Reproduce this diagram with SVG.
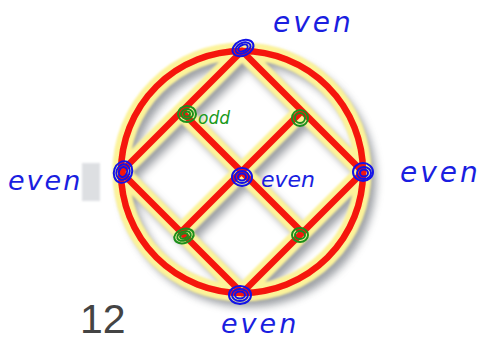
<svg xmlns="http://www.w3.org/2000/svg" width="495" height="341" viewBox="0 0 495 341">
<defs>
<filter id="shadow" x="-20%" y="-20%" width="140%" height="140%"><feGaussianBlur stdDeviation="4"/></filter>
<filter id="soft" x="-10%" y="-10%" width="120%" height="120%"><feGaussianBlur stdDeviation="1"/></filter>
<filter id="softr" x="-10%" y="-10%" width="120%" height="120%"><feGaussianBlur stdDeviation="0.7"/></filter>
<g id="shape" fill="none">
<circle cx="242" cy="172" r="121"/>
<path d="M242,51 L121,172 L242,293 L363,172 Z M181,111 L302,232 M302,111 L181,232"/>
</g>
</defs>
<style>
.lbl{font-family:"DejaVu Sans",sans-serif;fill:#1a1ee0;font-style:italic}
.odd{font-family:"DejaVu Sans",sans-serif;fill:#1a9a1a;font-style:italic}
.bd{fill:none;stroke:#1212e8;stroke-width:2}
.gd{fill:none;stroke:#1c8f1c;stroke-width:2}
</style>
<rect width="495" height="341" fill="#fff"/>
<g id="connectors" stroke-linejoin="round">
<use href="#shape" stroke="#6f747c" stroke-width="14" opacity="0.7" transform="translate(6,7)" filter="url(#shadow)"/>
<use href="#shape" stroke="#fcf39a" stroke-width="17" filter="url(#soft)"/>
<use href="#shape" stroke="#f5160a" stroke-width="6.5" filter="url(#softr)"/>
</g>
<rect x="82" y="163" width="18" height="38" fill="#c8cbd0" opacity="0.6" filter="url(#soft)"/>
<g id="n-top">
<ellipse cx="243" cy="48" rx="11" ry="7.5" transform="rotate(-25 243 48)" class="bd" stroke-width="3"/>
<ellipse cx="243" cy="48" rx="8" ry="5" transform="rotate(-25 243 48)" class="bd"/>
<ellipse cx="243" cy="48" rx="5" ry="3" transform="rotate(-25 243 48)" class="bd"/>
<text x="273" y="32" class="lbl" font-size="28" letter-spacing="3">even</text>
</g>
<g id="n-left">
<ellipse cx="123" cy="172" rx="9" ry="11" transform="rotate(20 123 172)" class="bd" stroke-width="3"/>
<ellipse cx="123" cy="172" rx="6.5" ry="8" transform="rotate(20 123 172)" class="bd"/>
<ellipse cx="123" cy="172" rx="4" ry="5" transform="rotate(20 123 172)" class="bd"/>
<text x="8" y="190" class="lbl" font-size="27" letter-spacing="2">even</text>
</g>
<g id="n-right">
<ellipse cx="363" cy="172" rx="10" ry="9" class="bd" stroke-width="3"/>
<ellipse cx="364" cy="173" rx="7" ry="6" class="bd"/>
<ellipse cx="364" cy="173" rx="4" ry="3.5" class="bd"/>
<text x="400" y="182" class="lbl" font-size="28" letter-spacing="3">even</text>
</g>
<g id="n-center">
<ellipse cx="242" cy="177" rx="10" ry="9" class="bd" stroke-width="3"/>
<ellipse cx="242" cy="177" rx="7" ry="6" class="bd"/>
<ellipse cx="242" cy="177" rx="4" ry="3.5" class="bd"/>
<text x="261" y="187" class="lbl" font-size="22">even</text>
</g>
<g id="n-bottom">
<ellipse cx="240" cy="295" rx="11" ry="9" class="bd" stroke-width="3"/>
<ellipse cx="240" cy="295" rx="8" ry="6" class="bd"/>
<ellipse cx="240" cy="295" rx="5" ry="3.5" class="bd"/>
<text x="221" y="333" class="lbl" font-size="27" letter-spacing="3">even</text>
</g>
<g id="n-tl">
<ellipse cx="187" cy="114" rx="9" ry="8" class="gd" stroke-width="3"/>
<ellipse cx="187" cy="114" rx="6" ry="5" class="gd"/>
<ellipse cx="187" cy="114" rx="3" ry="2.5" class="gd"/>
<text x="198" y="124" class="odd" font-size="17">odd</text>
</g>
<g id="n-tr">
<ellipse cx="300" cy="118" rx="8" ry="8" class="gd" stroke-width="3"/>
<ellipse cx="300" cy="118" rx="5" ry="5" class="gd"/>
</g>
<g id="n-bl">
<ellipse cx="184" cy="236" rx="10" ry="7" transform="rotate(-20 184 236)" class="gd" stroke-width="3"/>
<ellipse cx="184" cy="236" rx="7" ry="4.5" transform="rotate(-20 184 236)" class="gd"/>
<ellipse cx="184" cy="236" rx="4" ry="2.5" transform="rotate(-20 184 236)" class="gd"/>
</g>
<g id="n-br">
<ellipse cx="300" cy="235" rx="8" ry="7" class="gd" stroke-width="3"/>
<ellipse cx="300" cy="235" rx="5" ry="4" class="gd"/>
</g>
<text x="80" y="333" font-family="Liberation Sans, sans-serif" font-size="41" fill="#444">12</text>
</svg>
